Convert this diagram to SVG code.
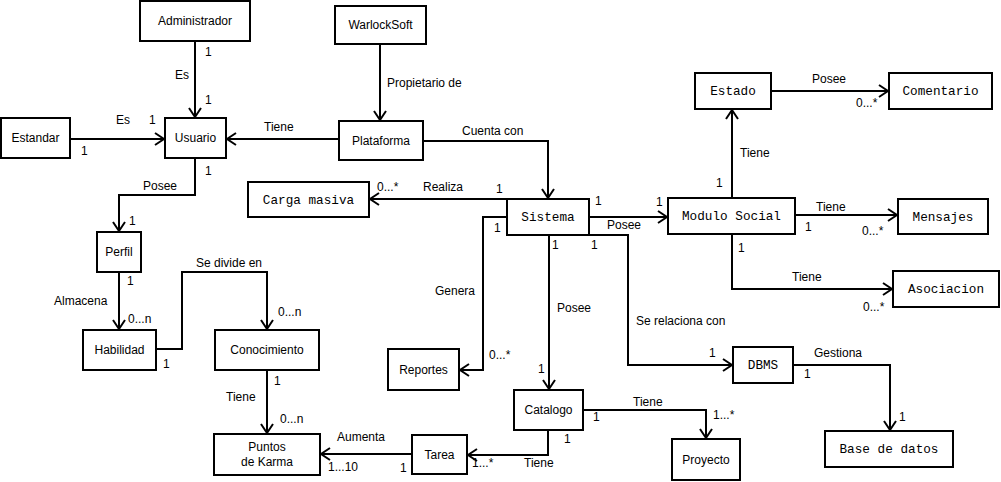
<svg xmlns="http://www.w3.org/2000/svg" width="1001" height="482" viewBox="0 0 1001 482">
<defs>
<marker id="arr" viewBox="-12 -8 14 16" markerWidth="14" markerHeight="16" refX="0" refY="0" orient="auto" markerUnits="userSpaceOnUse">
<path d="M-10,-6 L-1,0 L-10,6" fill="none" stroke="#000" stroke-width="2"/>
</marker>
<style>
.box{fill:#fff;stroke:#000;stroke-width:2}
.s{font-family:"Liberation Sans",Arial,sans-serif;font-size:12px;fill:#000}
.m{font-family:"Liberation Mono","Courier New",monospace;font-size:12.7px;fill:#000}
.c{text-anchor:middle}
.ln{fill:none;stroke:#000;stroke-width:2;marker-end:url(#arr)}
</style>
</defs>
<rect width="1001" height="482" fill="#fff"/>

<g id="connectors">
<path class="ln" d="M195,41 V118"/>
<path class="ln" d="M70,139 H165"/>
<path class="ln" d="M339,139 H226"/>
<path class="ln" d="M380,44 V121"/>
<path class="ln" d="M195,158 V195 H119 V232"/>
<path class="ln" d="M119,272 V330"/>
<path class="ln" d="M156,349 H182 V272 H267 V330"/>
<path class="ln" d="M267,370 V434"/>
<path class="ln" d="M412,454 H320"/>
<path class="ln" d="M423,141 H548 V199"/>
<path class="ln" d="M507,199 H369"/>
<path class="ln" d="M507,217 H483 V370 H459"/>
<path class="ln" d="M589,217 H668"/>
<path class="ln" d="M549,235 V390"/>
<path class="ln" d="M589,235 H628 V365 H733"/>
<path class="ln" d="M732,198 V109"/>
<path class="ln" d="M771,91 H889"/>
<path class="ln" d="M795,215 H898"/>
<path class="ln" d="M732,234 V289 H893"/>
<path class="ln" d="M583,410 H706 V439"/>
<path class="ln" d="M548,430 V455 H467"/>
<path class="ln" d="M793,365 H890 V431"/>
</g>

<g id="n-administrador"><rect class="box" x="140" y="1" width="110" height="40"/><text class="s c" x="195" y="25">Administrador</text></g>
<g id="n-warlocksoft"><rect class="box" x="335" y="6" width="91" height="38"/><text class="s c" x="380.5" y="29">WarlockSoft</text></g>
<g id="n-estandar"><rect class="box" x="1" y="118" width="69" height="40"/><text class="s c" x="35.5" y="142">Estandar</text></g>
<g id="n-usuario"><rect class="box" x="165" y="118" width="61" height="40"/><text class="s c" x="195.5" y="142">Usuario</text></g>
<g id="n-plataforma"><rect class="box" x="339" y="121" width="84" height="39"/><text class="s c" x="381" y="145">Plataforma</text></g>
<g id="n-carga"><rect class="box" x="248" y="182" width="121" height="35"/><text class="m c" x="308.5" y="203.5">Carga masiva</text></g>
<g id="n-sistema"><rect class="box" x="507" y="199" width="82" height="36"/><text class="m c" x="548" y="221">Sistema</text></g>
<g id="n-modulo"><rect class="box" x="668" y="198" width="127" height="36"/><text class="m c" x="731.5" y="220">Modulo Social</text></g>
<g id="n-estado"><rect class="box" x="695" y="73" width="76" height="36"/><text class="m c" x="733" y="95">Estado</text></g>
<g id="n-comentario"><rect class="box" x="889" y="73" width="103" height="36"/><text class="m c" x="940.5" y="95">Comentario</text></g>
<g id="n-mensajes"><rect class="box" x="898" y="199" width="90" height="35"/><text class="m c" x="943" y="220.5">Mensajes</text></g>
<g id="n-asociacion"><rect class="box" x="893" y="271" width="106" height="36"/><text class="m c" x="946" y="293">Asociacion</text></g>
<g id="n-perfil"><rect class="box" x="97" y="232" width="44" height="40"/><text class="s c" x="119" y="256">Perfil</text></g>
<g id="n-habilidad"><rect class="box" x="83" y="330" width="73" height="40"/><text class="s c" x="119.5" y="354">Habilidad</text></g>
<g id="n-conocimiento"><rect class="box" x="215" y="330" width="104" height="40"/><text class="s c" x="267" y="354">Conocimiento</text></g>
<g id="n-puntos"><rect class="box" x="214" y="434" width="106" height="41"/><text class="s c" x="267" y="451">Puntos</text><text class="s c" x="267" y="466">de Karma</text></g>
<g id="n-tarea"><rect class="box" x="412" y="435" width="55" height="39"/><text class="s c" x="439.5" y="458.5">Tarea</text></g>
<g id="n-reportes"><rect class="box" x="388" y="349" width="71" height="41"/><text class="s c" x="423.5" y="373.5">Reportes</text></g>
<g id="n-catalogo"><rect class="box" x="514" y="390" width="69" height="40"/><text class="s c" x="548.5" y="414">Catalogo</text></g>
<g id="n-proyecto"><rect class="box" x="672" y="439" width="68" height="41"/><text class="s c" x="706" y="463.5">Proyecto</text></g>
<g id="n-dbms"><rect class="box" x="733" y="347" width="60" height="36"/><text class="m c" x="763" y="369">DBMS</text></g>
<g id="n-basedatos"><rect class="box" x="825" y="431" width="128" height="36"/><text class="m c" x="889" y="453">Base de datos</text></g>

<g id="labels" class="s">
<text x="205" y="56">1</text>
<text x="175" y="79">Es</text>
<text x="205" y="104">1</text>
<text x="116" y="124">Es</text>
<text x="149" y="124">1</text>
<text x="81" y="155">1</text>
<text x="264" y="131">Tiene</text>
<text x="205" y="175">1</text>
<text x="143" y="190">Posee</text>
<text x="129" y="225">1</text>
<text x="387" y="87">Propietario de</text>
<text x="462" y="135">Cuenta con</text>
<text x="377" y="191">0...*</text>
<text x="423" y="191">Realiza</text>
<text x="496" y="193">1</text>
<text x="595" y="205">1</text>
<text x="494" y="232">1</text>
<text x="607" y="229">Posee</text>
<text x="656" y="206">1</text>
<text x="552" y="249">1</text>
<text x="591" y="249">1</text>
<text x="716" y="187">1</text>
<text x="740" y="157">Tiene</text>
<text x="812" y="83">Posee</text>
<text x="856" y="107">0...*</text>
<text x="816" y="211">Tiene</text>
<text x="805" y="231">1</text>
<text x="862" y="235">0...*</text>
<text x="738" y="252">1</text>
<text x="792" y="281">Tiene</text>
<text x="863" y="311">0...*</text>
<text x="196" y="267">Se divide en</text>
<text x="127" y="285">1</text>
<text x="54" y="305">Almacena</text>
<text x="128" y="323">0...n</text>
<text x="278" y="316">0...n</text>
<text x="163" y="368">1</text>
<text x="274" y="385">1</text>
<text x="226" y="401">Tiene</text>
<text x="280" y="423">0...n</text>
<text x="337" y="441">Aumenta</text>
<text x="328" y="471">1...10</text>
<text x="400" y="472">1</text>
<text x="435" y="295">Genera</text>
<text x="489" y="359">0...*</text>
<text x="538" y="373">1</text>
<text x="557" y="312">Posee</text>
<text x="636" y="325">Se relaciona con</text>
<text x="709" y="357">1</text>
<text x="814" y="357">Gestiona</text>
<text x="804" y="378">1</text>
<text x="899" y="421">1</text>
<text x="633" y="406">Tiene</text>
<text x="593" y="421">1</text>
<text x="713" y="419">1...*</text>
<text x="564" y="443">1</text>
<text x="472" y="467">1...*</text>
<text x="524" y="467">Tiene</text>
</g>
</svg>
